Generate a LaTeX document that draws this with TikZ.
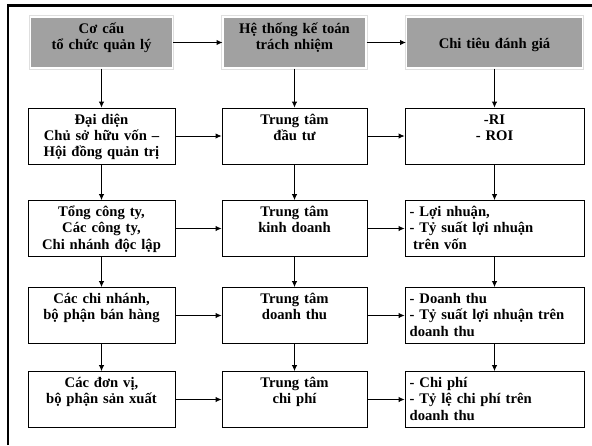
\documentclass[tikz,border=0pt]{standalone}
\usepackage{fontspec}
\setmainfont{Liberation Serif}
\usetikzlibrary{arrows.meta}
\tikzset{every picture/.append style={x=0.03cm, y=-0.03cm}}
\tikzset{
    box/.style={draw, line width=0.7pt, inner xsep=4pt, inner ysep=3pt,
        text height=11pt, text depth=30.8pt, align=center,
        font=\bfseries\fontsize{12.5}{13.7}\selectfont},
    head/.style={box, fill=gray!74, draw=white, line width=1pt,
        preaction={draw=gray!25, line width=3pt}, text depth=26.5pt},
    arr/.style={-{Latex[length=5pt, width=4.5pt]}, line width=0.7pt}
}

\begin{document}
\begin{tikzpicture}
	\useasboundingbox (0,0) rectangle (592,445);
	\draw[line width=2.5pt] (8,445) -- (8,5.5) -- (592,5.5);
	\node [head, text width=113.2pt] (h1) at (101.5,42.5) {Cơ cấu\\tổ chức quản lý};
	\node [head, text width=114pt] (h2) at (294.5,42.5) {Hệ thống kế toán\\trách nhiệm};
	\node [head, text width=142.2pt, text height=23.9pt, text depth=13.6pt] (h3) at (494.5,42.5) {Chi tiêu đánh giá};
	\node [box, text width=117.5pt] (a1) at (101.5,136) {Đại diện\\Chủ sở hữu vốn --\\Hội đồng quản trị};
	\node [box, text width=117.5pt] (a2) at (101.5,228.5) {Tổng công ty,\\Các công ty,\\Chi nhánh độc lập};
	\node [box, text width=117.5pt] (a3) at (101.5,315.5) {Các chi nhánh,\\bộ phận bán hàng};
	\node [box, text width=117.5pt] (a4) at (101.5,399.5) {Các đơn vị,\\bộ phận sản xuất};
	\node [box, text width=115.8pt] (b1) at (294.5,136) {Trung tâm\\đầu tư};
	\node [box, text width=115.8pt] (b2) at (294.5,228.5) {Trung tâm\\kinh doanh};
	\node [box, text width=115.8pt] (b3) at (294.5,315.5) {Trung tâm\\doanh thu};
	\node [box, text width=115.8pt] (b4) at (294.5,399.5) {Trung tâm\\chi phí};
	\node [box, text width=144.8pt] (c1) at (494.5,136) {-RI\\- ROI};
	\node [box, text width=144.8pt, align=left] (c2) at (494.5,228.5) {- Lợi nhuận,\\- Tỷ suất lợi nhuận\\\hspace*{3pt}trên vốn};
	\node [box, text width=144.8pt, align=left] (c3) at (494.5,315.5) {- Doanh thu\\- Tỷ suất lợi nhuận trên\\doanh thu};
	\node [box, text width=144.8pt, align=left] (c4) at (494.5,399.5) {- Chi phí\\- Tỷ lệ chi phí trên\\doanh thu};
	\draw[arr] (h1) -- (h2); \draw[arr] (h2) -- (h3);
	\draw[arr] (a1) -- (b1); \draw[arr] (b1) -- (c1);
	\draw[arr] (a2) -- (b2); \draw[arr] (b2) -- (c2);
	\draw[arr] (a3) -- (b3); \draw[arr] (b3) -- (c3);
	\draw[arr] (a4) -- (b4); \draw[arr] (b4) -- (c4);
	\draw[arr] (h1) -- (a1); \draw[arr] (a1) -- (a2);
	\draw[arr] (a2) -- (a3); \draw[arr] (a3) -- (a4);
	\draw[arr] (h2) -- (b1); \draw[arr] (b1) -- (b2);
	\draw[arr] (b2) -- (b3); \draw[arr] (b3) -- (b4);
	\draw[arr] (h3) -- (c1); \draw[arr] (c1) -- (c2);
	\draw[arr] (c2) -- (c3); \draw[arr] (c3) -- (c4);
\end{tikzpicture}
\end{document}
